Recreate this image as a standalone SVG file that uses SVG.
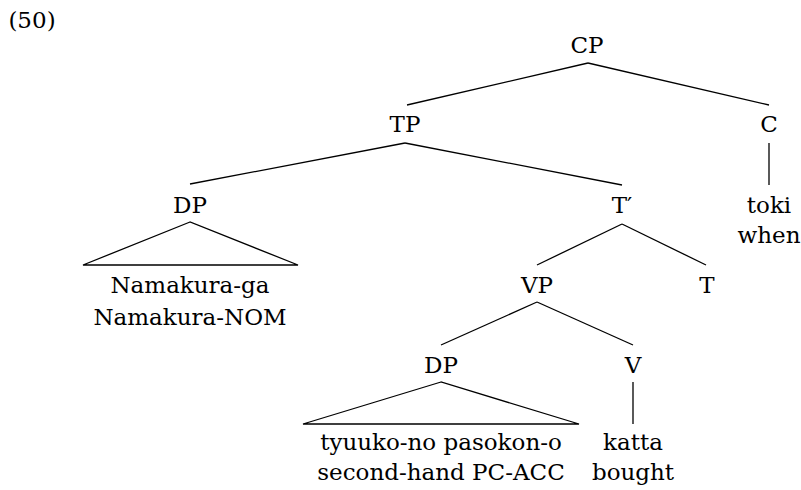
<svg xmlns="http://www.w3.org/2000/svg" width="801" height="490" viewBox="0 0 801 490">
<style>
.t{font-family:"DejaVu Serif","Liberation Serif",serif;font-size:23px;fill:#000;text-anchor:middle}
.l{stroke:#000;stroke-width:1.3;fill:none}
</style>
<rect width="801" height="490" fill="#fff"/>
<g class="t" font-family="DejaVu Serif, serif" font-size="23">
<text x="32" y="28">(50)</text>
</g>
<g id="connectors">
<line class="l" x1="588" y1="63" x2="407" y2="105"/>
<line class="l" x1="588" y1="63" x2="769" y2="105"/>
<line class="l" x1="769" y1="143" x2="769" y2="185"/>
<line class="l" x1="405" y1="143" x2="190" y2="184"/>
<line class="l" x1="405" y1="143" x2="622" y2="185"/>
<polygon class="l" points="190,222 83,265 298,265"/>
<line class="l" x1="622" y1="224" x2="537" y2="265"/>
<line class="l" x1="622" y1="224" x2="706" y2="265"/>
<line class="l" x1="537" y1="302" x2="441" y2="345"/>
<line class="l" x1="537" y1="302" x2="633" y2="345"/>
<polygon class="l" points="441,382 303,424 579,424"/>
<line class="l" x1="633" y1="382" x2="633" y2="424"/>
</g>
<g class="t" font-family="DejaVu Serif, serif" font-size="23">
<g id="CP"><text x="587" y="53">CP</text></g>
<g id="TP"><text x="405" y="132">TP</text></g>
<g id="C"><text x="769" y="132">C</text></g>
<g id="toki"><text x="769" y="213">toki</text><text x="769" y="243">when</text></g>
<g id="DP1"><text x="190" y="213">DP</text></g>
<g id="Tbar"><text x="622" y="213">T′</text></g>
<g id="DP1-leaf"><text x="190" y="293">Namakura-ga</text><text x="190" y="325">Namakura-NOM</text></g>
<g id="VP"><text x="537" y="293">VP</text></g>
<g id="T"><text x="707" y="293">T</text></g>
<g id="DP2"><text x="441" y="373">DP</text></g>
<g id="V"><text x="633" y="373">V</text></g>
<g id="DP2-leaf"><text x="441" y="450">tyuuko-no pasokon-o</text><text x="441" y="480">second-hand PC-ACC</text></g>
<g id="katta"><text x="633" y="450">katta</text><text x="633" y="480">bought</text></g>
</g>
</svg>
